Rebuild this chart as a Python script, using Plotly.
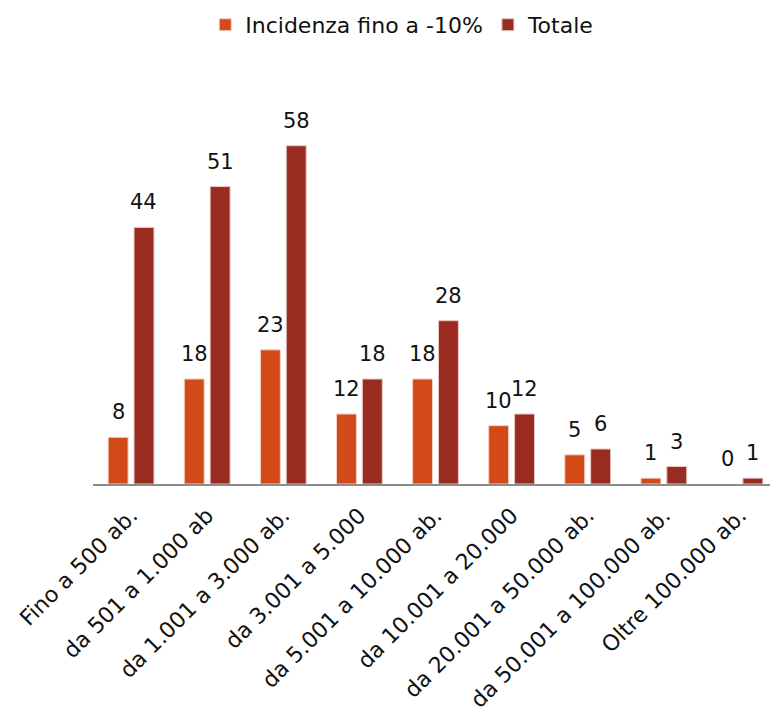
import plotly.graph_objects as go

categories = ["Fino a 500 ab.", "da 501 a 1.000 ab", "da 1.001 a 3.000 ab.", "da 3.001 a 5.000",
              "da 5.001 a 10.000 ab.", "da 10.001 a 20.000", "da 20.001 a 50.000 ab.",
              "da 50.001 a 100.000 ab.", "Oltre 100.000 ab."]
incidenza = [8, 18, 23, 12, 18, 10, 5, 1, 0]
totale = [44, 51, 58, 18, 28, 12, 6, 3, 1]

FONT = "DejaVu Sans, sans-serif"
COL_INC = "#D24A18"
COL_TOT = "#9A2B20"

W, H = 770, 705
ML, MR, MT, MB = 85, 0, 52, 229
BARGAP, GROUPGAP = 0.32, 0.23

fig = go.Figure()
fig.add_trace(go.Bar(
    x=categories, y=incidenza, name="Incidenza fino a -10%",
    marker=dict(color=COL_INC,
                line=dict(color="#F3D0C4", width=[1 if v > 0 else 0 for v in incidenza])),
))
fig.add_trace(go.Bar(
    x=categories, y=totale, name="Totale",
    marker=dict(color=COL_TOT,
                line=dict(color="#E8C8C3", width=[1 if v > 0 else 0 for v in totale])),
))

# value labels above each bar (offset derived from bar group geometry)
cat_px = (W - ML - MR) / len(categories)
slot = cat_px * (1 - BARGAP) / 2
for series, sign in ((incidenza, -1), (totale, 1)):
    for c, v in zip(categories, series):
        fig.add_annotation(x=c, y=v, text=str(v), showarrow=False,
                           xshift=sign * slot / 2, yshift=11, yanchor="bottom",
                           font=dict(size=21, family=FONT, color="#111111"))

fig.update_layout(
    width=W, height=H,
    margin=dict(l=ML, r=MR, t=MT, b=MB),
    paper_bgcolor="white", plot_bgcolor="white",
    barmode="group", bargap=BARGAP, bargroupgap=GROUPGAP,
    font=dict(family=FONT, size=21, color="#111111"),
    showlegend=True,
    legend=dict(orientation="h", x=0.512, xanchor="center", xref="container",
                y=0.976, yanchor="middle", yref="container",
                font=dict(size=22, family=FONT, color="#111111"),
                traceorder="normal"),
    xaxis=dict(showline=True, linecolor="#8C8C8C", linewidth=2, ticks="",
               tickangle=-45, ticklabelstandoff=8,
               tickfont=dict(size=22, family=FONT, color="#111111"),
               showgrid=False, zeroline=False),
    yaxis=dict(visible=False, range=[0, 72.7], showgrid=False, zeroline=False),
)

fig.write_html("out.html")
